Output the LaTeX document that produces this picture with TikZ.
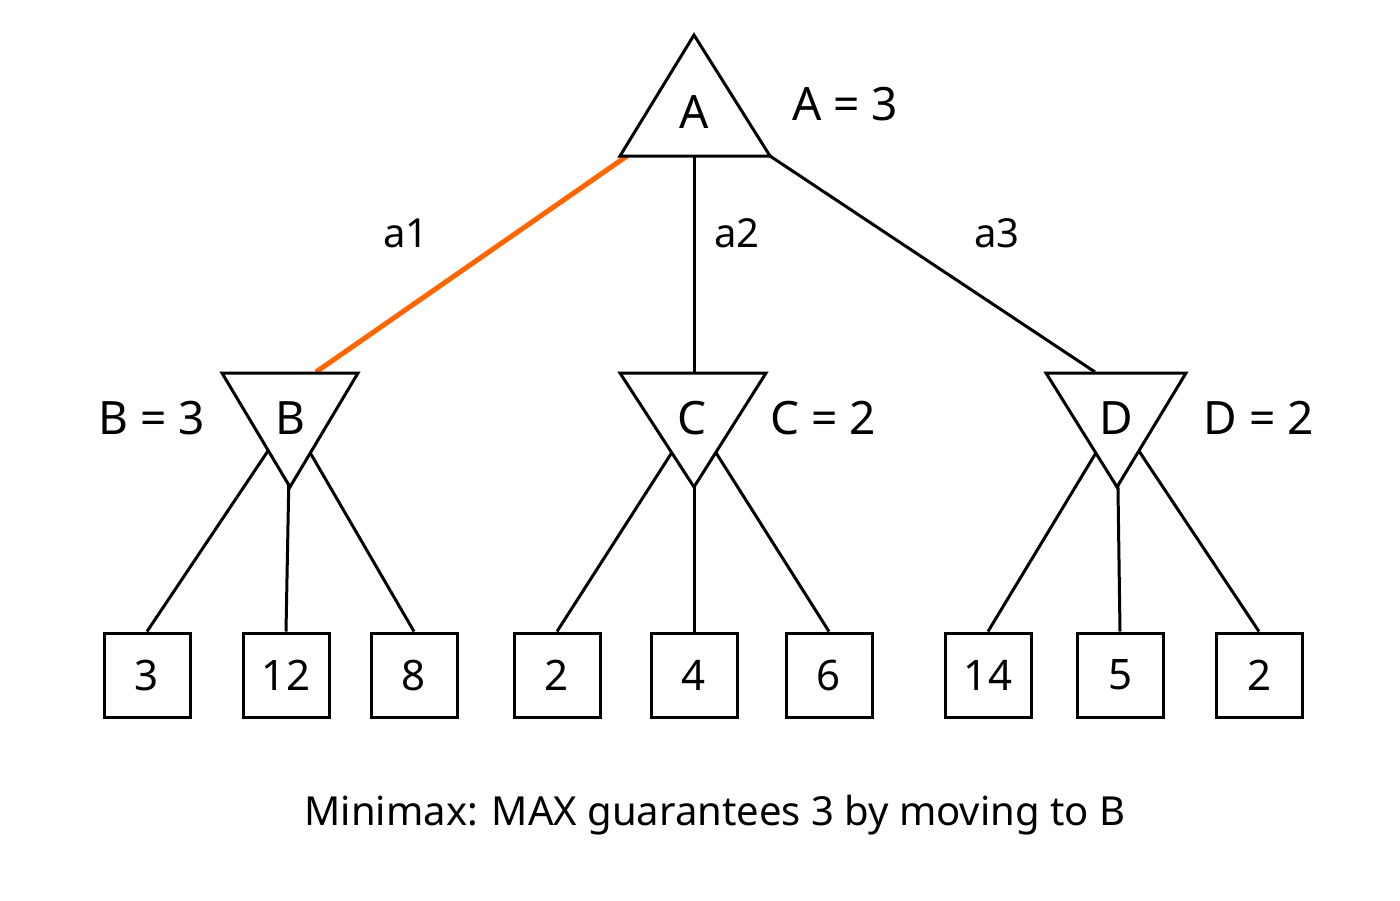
\documentclass[tikz,border=0pt]{standalone}
\usepackage{fontspec}
\setmainfont{Noto Sans}
\begin{document}
\begin{tikzpicture}[x=1pt,y=-1pt,line width=3pt,
  lab/.style={font=\fontsize{40}{40}\selectfont},
  big/.style={font=\fontsize{46}{46}\selectfont},
  leaf/.style={draw,line width=3pt,minimum width=86pt,minimum height=84pt,font=\fontsize{42}{42}\selectfont,fill=white},
  tri/.style={draw,line width=3pt,fill=white,line join=miter}]
\useasboundingbox (0,0) rectangle (1400,900);
% leaves
\foreach \n/\x/\v in {l1/147/3,l2/286/12,l3/414/8,l4/557/2,l5/694/4,l6/829/6,l7/988/14,l8/1120/5,l9/1259/2}
  \node[leaf] (\n) at (\x,675) {\v};
\coordinate (Bc) at (290,418); \coordinate (Cc) at (694,418); \coordinate (Dc) at (1117,418);
\coordinate (Ac) at (694,156);
\foreach \p/\a/\b/\c in {Bc/l1/l2/l3,Cc/l4/l5/l6,Dc/l7/l8/l9}{
  \draw (\p) -- (\a.north); \draw (\p) -- (\b.north); \draw (\p) -- (\c.north);}
\coordinate (Btop) at (316,372); \coordinate (Ctop) at (694,372); \coordinate (Dtop) at (1095,372);
\coordinate (Aleft) at (627,156); \coordinate (Aright) at (770,156);
\draw[color={rgb,255:red,255;green,102;blue,0},line width=5pt] (Aleft) -- (Btop);
\draw (Ac) -- (Ctop);
\draw (Aright) -- (Dtop);
% triangles
\draw[tri] (694,35) -- (770,156) -- (620,156) -- cycle;
\draw[tri] (222,373) -- (358,373) -- (290,487) -- cycle;
\draw[tri] (620,373) -- (766,373) -- (694,487) -- cycle;
\draw[tri] (1046,373) -- (1186,373) -- (1117,487) -- cycle;
\node[big] (A) at (694,112) {A};
\node[big] (B) at (290,418) {B};
\node[big] (C) at (692,418) {C};
\node[big] (D) at (1116,418) {D};
\node[big] (Av) at (845,104) {A = 3};
\node[big] (Bv) at (152,418) {B = 3};
\node[big] (Cv) at (823,418) {C = 2};
\node[big] (Dv) at (1259,418) {D = 2};
\node[lab] (a1) at (406,233) {a1};
\node[lab] (a2) at (737,233) {a2};
\node[lab] (a3) at (997,233) {a3};
\node[font=\fontsize{40}{40}\selectfont] (cap) at (715,815) {Minimax: MAX guarantees 3 by moving to B};
\end{tikzpicture}
\end{document}
